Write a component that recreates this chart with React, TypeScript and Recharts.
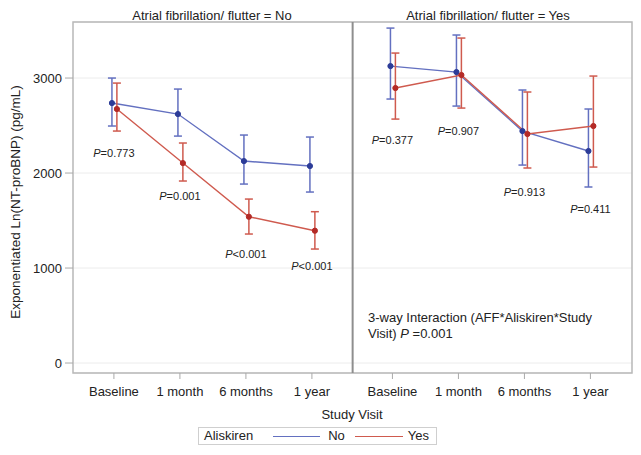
import React from 'react';
import {
  ComposedChart,
  Line,
  ErrorBar,
  XAxis,
  YAxis,
  CartesianGrid,
  ReferenceLine,
  ReferenceArea,
  Scatter,
} from 'recharts';

// ---------- data ----------
const visits = ['Baseline', '1 month', '6 months', '1 year'];
const panelTitles = ['Atrial fibrillation/ flutter = No', 'Atrial fibrillation/ flutter = Yes'];
const seriesNames = ['No', 'Yes'];

// AFF = No panel
const noAffAlisNoMean = [2737, 2621, 2126, 2074];
const noAffAlisNoLow = [2495, 2389, 1884, 1800];
const noAffAlisNoHigh = [3000, 2884, 2400, 2379];
const noAffAlisYesMean = [2674, 2105, 1540, 1393];
const noAffAlisYesLow = [2442, 1916, 1358, 1200];
const noAffAlisYesHigh = [2947, 2316, 1726, 1593];
const noAffPValues = ['=0.773', '=0.001', '<0.001', '<0.001'];

// AFF = Yes panel
const affAlisNoMean = [3126, 3063, 2442, 2232];
const affAlisNoLow = [2779, 2705, 2084, 1853];
const affAlisNoHigh = [3526, 3453, 2874, 2674];
const affAlisYesMean = [2895, 3032, 2411, 2495];
const affAlisYesLow = [2568, 2684, 2053, 2063];
const affAlisYesHigh = [3263, 3421, 2853, 3021];
const affPValues = ['=0.377', '=0.907', '=0.913', '=0.411'];

const yTicks = [0, 1000, 2000, 3000];
const yAxisTitle = 'Exponentiated Ln(NT-proBNP) (pg/mL)';
const xAxisTitle = 'Study Visit';
const legendTitle = 'Aliskiren';
const annotationLines = ['3-way Interaction (AFF*Aliskiren*Study', 'Visit) '];
const annotationP = '=0.001';

// ---------- layout / style ----------
const FONT = '"Liberation Sans", Arial, Helvetica, sans-serif';
const PANEL_SHIFT = 4.22;
const BLUE_OFF = -0.03;
const RED_OFF = 0.045;
const X_DOMAIN: [number, number] = [-0.62, 7.85];
const Y_DOMAIN: [number, number] = [-105, 3590];
const SEPARATOR_X = 3.617;
const BLUE_LINE = '#6370c0';
const BLUE_DOT = '#2c3c98';
const RED_LINE = '#cf5a4e';
const RED_DOT = '#b42a26';
const LEFT_P_DY = [22, 15, 20, 17];
const RIGHT_P_DY = [21, 23, 24, 22];

const xTicks = [...visits.map((_, i) => i), ...visits.map((_, i) => i + PANEL_SHIFT)];

const build = (mean: number[], low: number[], high: number[], shift: number) =>
  mean.map((m, i) => ({ x: i + shift, y: m, err: [m - low[i], high[i] - m] }));

const pData = (
  p: string[],
  lowA: number[],
  lowB: number[],
  shift: number,
  dys: number[]
) => p.map((t, i) => ({ x: i + shift, y: Math.min(lowA[i], lowB[i]), p: t, dy: dys[i] }));

const leftBlue = build(noAffAlisNoMean, noAffAlisNoLow, noAffAlisNoHigh, BLUE_OFF);
const leftRed = build(noAffAlisYesMean, noAffAlisYesLow, noAffAlisYesHigh, RED_OFF);
const rightBlue = build(affAlisNoMean, affAlisNoLow, affAlisNoHigh, PANEL_SHIFT + BLUE_OFF);
const rightRed = build(affAlisYesMean, affAlisYesLow, affAlisYesHigh, PANEL_SHIFT + RED_OFF);
const leftP = pData(noAffPValues, noAffAlisNoLow, noAffAlisYesLow, 0, LEFT_P_DY);
const rightP = pData(affPValues, affAlisNoLow, affAlisYesLow, PANEL_SHIFT, RIGHT_P_DY);

const tickFmt = (v: number) => {
  const idx = v > PANEL_SHIFT - 0.5 ? Math.round(v - PANEL_SHIFT) : Math.round(v);
  return visits[idx] ?? '';
};

const PLabel = (props: any) => {
  const { cx, cy, payload } = props;
  if (cx == null || cy == null) return null;
  return (
    <text
      x={cx}
      y={cy + payload.dy}
      textAnchor="middle"
      dominantBaseline="central"
      fontSize={11}
      fontFamily={FONT}
      fill="#222"
    >
      <tspan fontStyle="italic">P</tspan>
      {payload.p}
    </text>
  );
};

const series = (data: any[], line: string, dot: string, key: string) => (
  <Line
    key={key}
    data={data}
    dataKey="y"
    type="linear"
    stroke={line}
    strokeWidth={1.4}
    dot={{ r: 2.6, fill: dot, stroke: dot, strokeWidth: 1 }}
    activeDot={false}
    isAnimationActive={false}
    legendType="none"
  >
    <ErrorBar dataKey="err" direction="y" width={4} stroke={line} strokeWidth={1.5} />
  </Line>
);

export default function App() {
  return (
    <div
      style={{
        position: 'absolute',
        left: 0,
        top: 0,
        width: 641,
        height: 455,
        background: '#fff',
        fontFamily: FONT,
      }}
    >
      <ComposedChart width={641} height={455} margin={{ top: 22, right: 9, left: 0, bottom: 52 }}>
        <CartesianGrid vertical={false} stroke="#ececec" />
        <XAxis
          type="number"
          dataKey="x"
          domain={X_DOMAIN}
          ticks={xTicks}
          interval={0}
          allowDataOverflow
          tickFormatter={tickFmt}
          height={30}
          tickSize={6}
          tickMargin={8}
          axisLine={false}
          tickLine={{ stroke: '#aaaaaa' }}
          tick={{ fill: '#222', fontSize: 13, fontFamily: FONT }}
        />
        <YAxis
          type="number"
          domain={Y_DOMAIN}
          ticks={yTicks}
          allowDataOverflow
          width={73}
          tickSize={8}
          tickMargin={3}
          axisLine={false}
          tickLine={{ stroke: '#aaaaaa' }}
          tick={{ fill: '#222', fontSize: 13, fontFamily: FONT }}
        />
        <ReferenceArea
          x1={X_DOMAIN[0]}
          x2={X_DOMAIN[1]}
          y1={Y_DOMAIN[0]}
          y2={Y_DOMAIN[1]}
          fill="none"
          stroke="#b8b8b8"
          strokeWidth={1.5}
          ifOverflow="visible"
        />
        <ReferenceLine x={SEPARATOR_X} stroke="#8e8e8e" strokeWidth={2} ifOverflow="visible" />
        {series(leftBlue, BLUE_LINE, BLUE_DOT, 'lb')}
        {series(rightBlue, BLUE_LINE, BLUE_DOT, 'rb')}
        {series(leftRed, RED_LINE, RED_DOT, 'lr')}
        {series(rightRed, RED_LINE, RED_DOT, 'rr')}
        <Scatter data={leftP} dataKey="y" shape={PLabel} isAnimationActive={false} legendType="none" />
        <Scatter data={rightP} dataKey="y" shape={PLabel} isAnimationActive={false} legendType="none" />
      </ComposedChart>

      <svg
        width={641}
        height={455}
        style={{ position: 'absolute', left: 0, top: 0, pointerEvents: 'none' }}
        fontFamily={FONT}
      >
        <text x={212} y={15} textAnchor="middle" dominantBaseline="central" fontSize={13} fill="#222">
          {panelTitles[0]}
        </text>
        <text x={488} y={15} textAnchor="middle" dominantBaseline="central" fontSize={13} fill="#222">
          {panelTitles[1]}
        </text>
        <text
          x={15}
          y={202}
          transform="rotate(-90 15 202)"
          textAnchor="middle"
          dominantBaseline="central"
          fontSize={13.5}
          fill="#222"
        >
          {yAxisTitle}
        </text>
        <text x={352} y={414} textAnchor="middle" dominantBaseline="central" fontSize={13} fill="#222">
          {xAxisTitle}
        </text>
        <text x={368} y={317} dominantBaseline="central" fontSize={13} fill="#222">
          {annotationLines[0]}
        </text>
        <text x={368} y={333} dominantBaseline="central" fontSize={13} fill="#222">
          {annotationLines[1]}
          <tspan fontStyle="italic">P</tspan>
          {' ' + annotationP}
        </text>
      </svg>

      <div
        style={{
          position: 'absolute',
          left: 198,
          top: 427,
          width: 239,
          height: 18,
          border: '1px solid #cfcfcf',
          boxSizing: 'border-box',
          fontSize: 13,
          color: '#222',
          display: 'flex',
          alignItems: 'center',
          lineHeight: '16px',
        }}
      >
        <span style={{ marginLeft: 5 }}>{legendTitle}</span>
        <span style={{ display: 'inline-block', width: 47, height: 0, borderTop: `1.5px solid ${BLUE_LINE}`, marginLeft: 20 }} />
        <span style={{ marginLeft: 8 }}>{seriesNames[0]}</span>
        <span style={{ display: 'inline-block', width: 48, height: 0, borderTop: `1.5px solid ${RED_LINE}`, marginLeft: 10 }} />
        <span style={{ marginLeft: 5 }}>{seriesNames[1]}</span>
      </div>
    </div>
  );
}
